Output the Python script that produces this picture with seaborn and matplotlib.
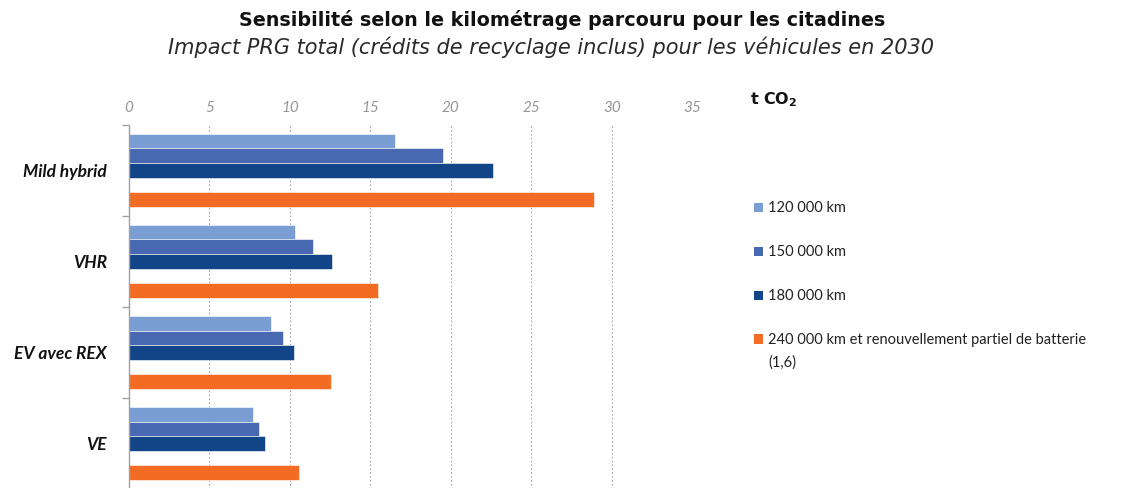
import matplotlib
matplotlib.use("Agg")
import matplotlib.pyplot as plt
from matplotlib.patches import Patch
import pandas as pd
import seaborn as sns

# Vehicle types and mileage scenarios
vehicles = ["Mild hybrid", "VHR", "EV avec REX", "VE"]
scenarios = ["120 000 km", "150 000 km", "180 000 km", " ",
             "240 000 km et renouvellement partiel de batterie"]
scenario_note = "(1,6)"

# Total GWP impact (t CO2) per vehicle and scenario
km_120 = [16.5, 10.3, 8.8, 7.7]
km_150 = [19.5, 11.45, 9.55, 8.1]
km_180 = [22.65, 12.6, 10.25, 8.45]
km_240 = [28.9, 15.45, 12.55, 10.55]

x_ticks = [0, 5, 10, 15, 20, 25, 30, 35]

colors = ["#7A9ED3", "#4869B1", "#114587", "#FFFFFF", "#F36C24"]

rows = []
for series_name, values in zip([scenarios[0], scenarios[1], scenarios[2], scenarios[4]],
                               [km_120, km_150, km_180, km_240]):
    for v, val in zip(vehicles, values):
        rows.append({"vehicle": v, "scenario": series_name, "value": val})
df = pd.DataFrame(rows)

sns.set_theme(style="white")
plt.rcParams["font.family"] = ["Lato", "DejaVu Sans"]

fig = plt.figure(figsize=(11.24, 4.88), dpi=100)
ax = fig.add_axes([0.1148, -0.002, 0.501, 0.7465])

palette = dict(zip(scenarios, colors))
sns.barplot(data=df, y="vehicle", x="value", hue="scenario",
            order=vehicles, hue_order=scenarios, palette=palette,
            orient="h", width=0.8, dodge=True, saturation=1,
            edgecolor="white", linewidth=0.4, legend=False, ax=ax)

ax.set_xlim(0, 35)
ax.set_ylim(3.5, -0.5)
ax.set_xlabel("")
ax.set_ylabel("")

# Value axis on top, italic grey labels, dotted vertical gridlines
ax.xaxis.tick_top()
ax.set_xticks(x_ticks)
ax.set_xticklabels([str(t) for t in x_ticks], fontstyle="italic",
                   color="#969696", fontsize=11)
ax.tick_params(axis="x", length=0, pad=7)
for t in x_ticks[1:]:
    ax.axvline(t, color="#A6A6A6", linestyle=(0, (1.5, 2)), linewidth=0.8, zorder=0)

# Category axis with ticks between groups
ax.set_yticks(range(len(vehicles)))
ax.set_yticklabels(vehicles, fontstyle="italic", fontweight="bold",
                   fontsize=12.5, color="#111111")
ax.tick_params(axis="y", length=0, pad=16)
ax.set_yticks([-0.5, 0.5, 1.5, 2.5], minor=True)
ax.tick_params(axis="y", which="minor", length=5, color="#A0A0A0", width=1, left=True)

for side in ["top", "right", "bottom"]:
    ax.spines[side].set_visible(False)
ax.spines["left"].set_color("#A0A0A0")
ax.spines["left"].set_linewidth(1)

# Titles
fig.text(0.500, 0.958, "Sensibilité selon le kilométrage parcouru pour les citadines",
         ha="center", va="center", fontsize=13.8, fontweight="bold", color="#111111",
         family="DejaVu Sans")
fig.text(0.490, 0.903, "Impact PRG total (crédits de recyclage inclus) pour les véhicules en 2030",
         ha="center", va="center", fontsize=15, fontstyle="italic",
         color="#2A2A2A", family="DejaVu Sans")

# Unit label
fig.text(0.667, 0.795, "t CO$_\\mathbf{2}$", ha="left", va="center",
         fontsize=11.5, fontweight="bold", color="#111111", family="DejaVu Sans")

# Legend
handles = [Patch(facecolor=c, edgecolor="none") for c, s in zip(colors, scenarios) if s.strip()]
labels = [s for s in scenarios if s.strip()]
leg = fig.legend(handles, labels, loc="upper left", bbox_to_anchor=(0.659, 0.614),
                 frameon=False, fontsize=10.5, handlelength=0.6, handleheight=0.6,
                 handletextpad=0.4, labelspacing=2.05, labelcolor="#222222")

# Continuation line of the last legend entry
fig.canvas.draw()
last = leg.get_texts()[-1]
bb = last.get_window_extent().transformed(fig.transFigure.inverted())
fig.text(bb.x0, bb.y0 - 23 / 488, scenario_note, ha="left", va="bottom",
         fontsize=10.5, color="#222222")

fig.savefig("out.png", dpi=100)
